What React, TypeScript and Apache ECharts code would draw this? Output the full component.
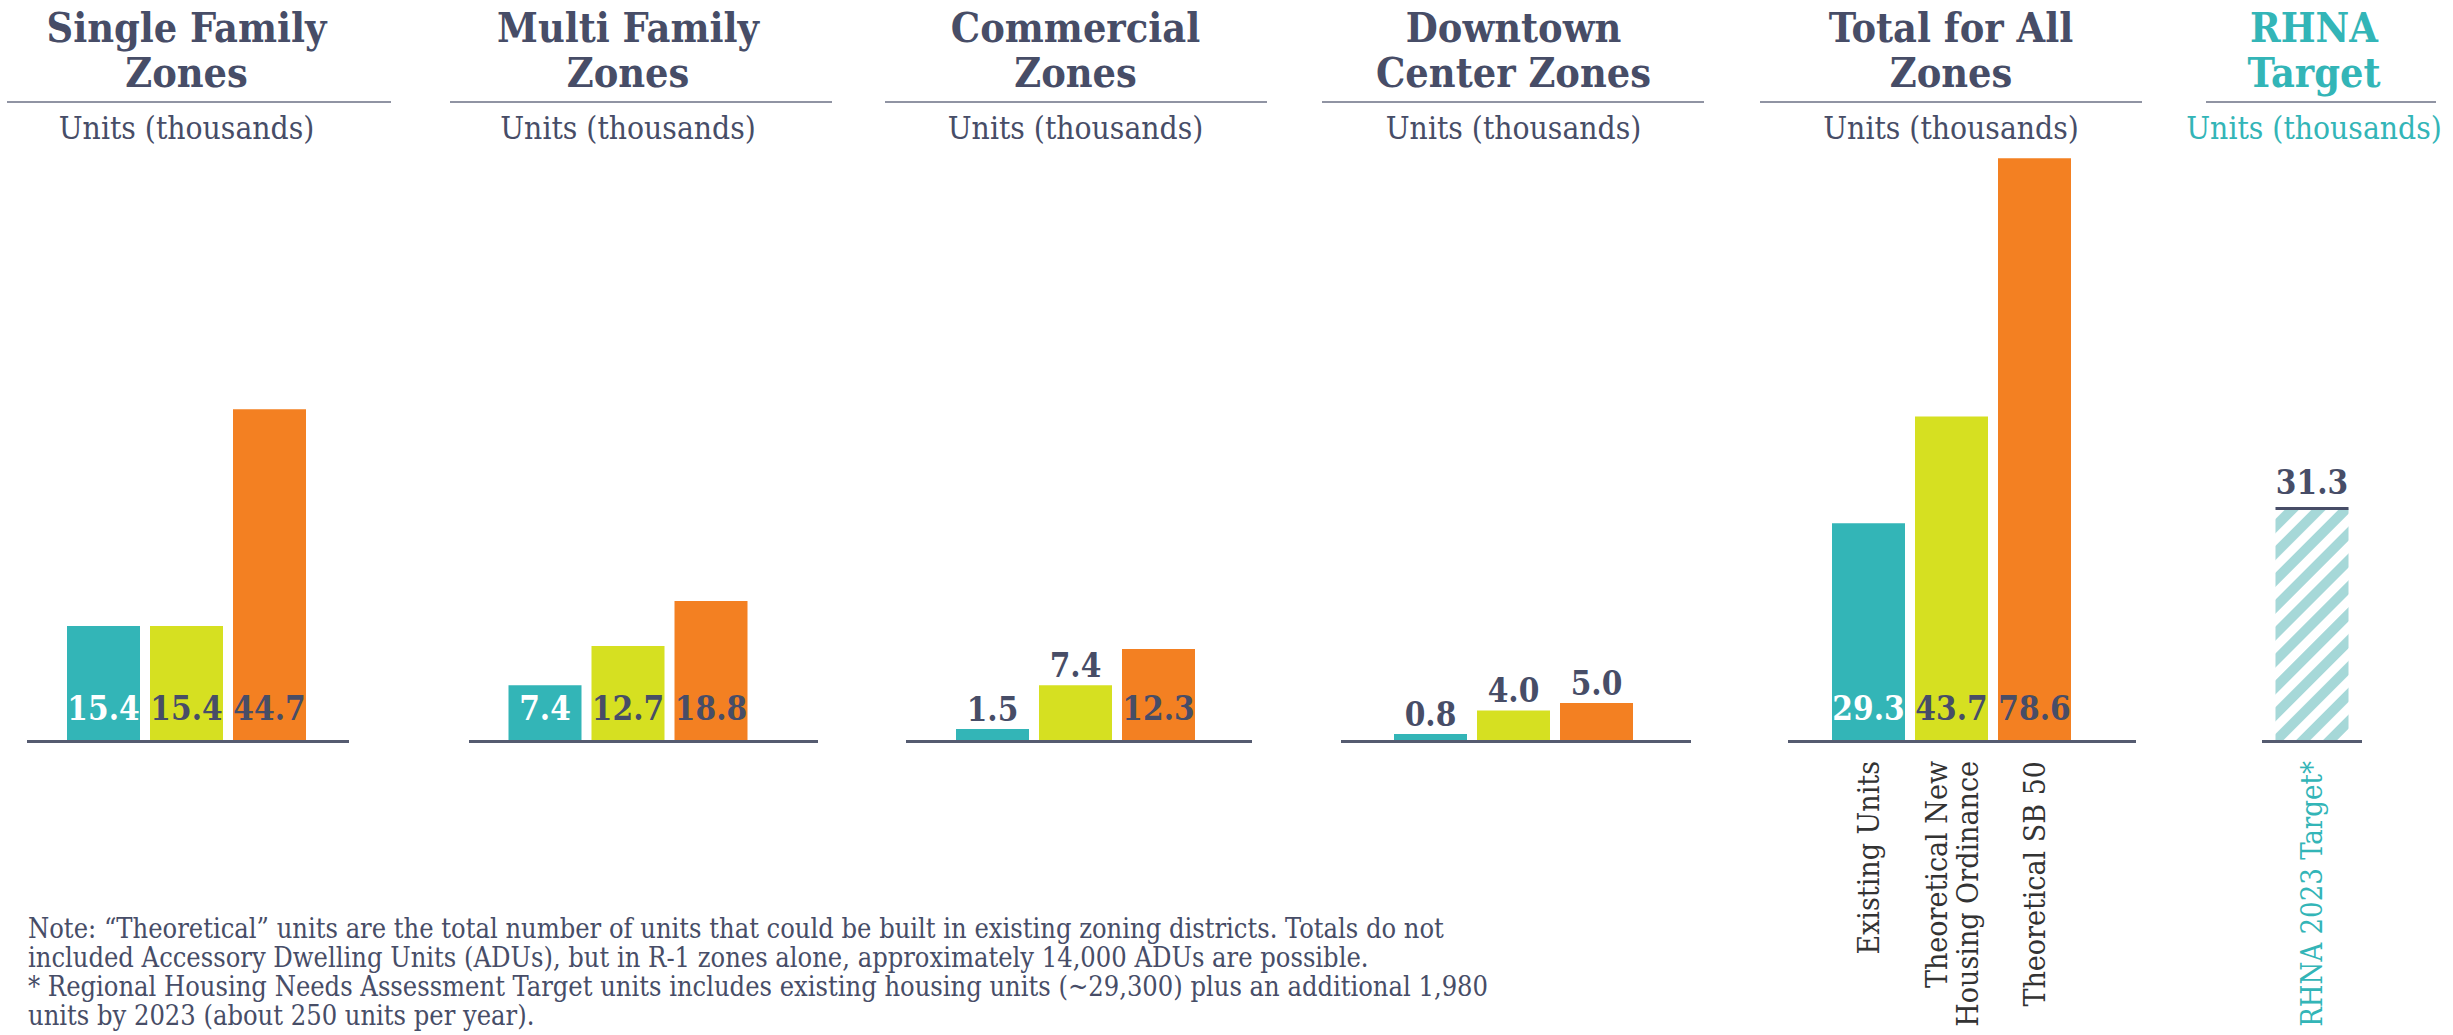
import React, { useEffect, useRef } from "react";
import * as echarts from "echarts";

// ---------- data ----------
const categories = ["Existing Units", "Theoretical New\nHousing Ordinance", "Theoretical SB 50"];
const panelTitles = ["Single Family\nZones", "Multi Family\nZones", "Commercial\nZones", "Downtown\nCenter Zones", "Total for All\nZones", "RHNA\nTarget"];
const unitLabel = "Units (thousands)";
const singleFamily = [15.4, 15.4, 44.7];
const multiFamily = [7.4, 12.7, 18.8];
const commercial = [1.5, 7.4, 12.3];
const downtown = [0.8, 4.0, 5.0];
const totalAll = [29.3, 43.7, 78.6];
const rhnaCategories = ["RHNA 2023 Target*"];
const rhnaTarget = [31.3];
const noteText =
  "Note: \u201CTheoretical\u201D units are the total number of units that could be built in existing zoning districts. Totals do not\n" +
  "included Accessory Dwelling Units (ADUs), but in R-1 zones alone, approximately 14,000 ADUs are possible.\n" +
  "* Regional Housing Needs Assessment Target units includes existing housing units (~29,300) plus an additional 1,980\n" +
  "units by 2023 (about 250 units per year).";

// ---------- styles ----------
const FONT = "'DejaVu Serif Condensed', 'DejaVu Serif', serif";
const SLATE = "#474d67";
const TEAL = "#33b5b7";
const PALETTE = ["#33b5b7", "#d6e021", "#f38022"];
const STRIPE = "#a6d8d8";
const W = 2453;
const H = 1035;
const BAR_BOTTOM = 740;
const Y_MAX = 80;
const PLOT_H = 592;
const BAR_W = 73;

// layout per panel (left of grid, grid width, baseline extent, centre, separator)
const layout = [
  { left: 62, width: 249, l1: 27, l2: 349, c: 186.5, sc: 199, sw: 384 },
  { left: 503.5, width: 249, l1: 469, l2: 818, c: 628, sc: 641, sw: 382 },
  { left: 951, width: 249, l1: 906, l2: 1252, c: 1075.5, sc: 1076, sw: 382 },
  { left: 1389, width: 249, l1: 1341, l2: 1691, c: 1513.5, sc: 1513, sw: 382 },
  { left: 1827, width: 249, l1: 1788, l2: 2136, c: 1951, sc: 1951, sw: 382 },
  { left: 2262, width: 100, l1: 2262, l2: 2362, c: 2314, sc: 2321, sw: 230 },
];
// whether value label sits inside the bar (styling)
const labelInside = [
  [true, true, true],
  [true, true, true],
  [false, false, true],
  [false, false, false],
  [true, true, true],
];

export default function App() {
  const ref = useRef<HTMLDivElement>(null);
  useEffect(() => {
    document.body.style.margin = "0";
    const chart = echarts.init(ref.current!, null, { renderer: "svg" });
    const zoneData = [singleFamily, multiFamily, commercial, downtown, totalAll];

    const grids = layout.map((p) => ({
      left: p.left,
      width: p.width,
      top: BAR_BOTTOM - PLOT_H,
      height: PLOT_H,
      containLabel: false,
      outerBoundsMode: "none",
    }));
    const xAxes = layout.map((p, i) => ({
      type: "category",
      gridIndex: i,
      data: i === 5 ? rhnaCategories : categories,
      axisLine: { show: false },
      axisTick: { show: false },
      axisLabel: {
        show: i >= 4,
        interval: 0,
        rotate: 90,
        margin: 21,
        fontSize: i === 5 ? 29 : 30,
        lineHeight: 31,
        color: i === 5 ? TEAL : "#333333",
        fontFamily: FONT,
        hideOverlap: false,
      },
    }));
    const yAxes = layout.map((p, i) => ({
      type: "value",
      gridIndex: i,
      min: 0,
      max: Y_MAX,
      show: false,
      splitLine: { show: false },
    }));

    const valueLabel = {
      show: true,
      fontSize: 33,
      fontWeight: "bold",
      fontFamily: FONT,
      formatter: (p: any) => Number(p.value).toFixed(1),
    };

    const series: any[] = zoneData.map((vals, i) => ({
      type: "bar",
      xAxisIndex: i,
      yAxisIndex: i,
      barWidth: BAR_W,
      label: valueLabel,
      data: vals.map((v, j) => ({
        value: v,
        itemStyle: { color: PALETTE[j] },
        label: labelInside[i][j]
          ? { position: "insideBottom", distance: 15, color: j === 0 ? "#ffffff" : SLATE }
          : { position: "top", distance: 3, color: SLATE },
      })),
    }));
    series.push({
      type: "bar",
      xAxisIndex: 5,
      yAxisIndex: 5,
      barWidth: BAR_W,
      itemStyle: {
        color: "#ffffff",
        decal: {
          symbol: "rect",
          symbolSize: 1,
          color: STRIPE,
          dashArrayX: [1, 0],
          dashArrayY: [10, 9],
          rotation: -Math.PI / 4,
        },
      },
      label: {
        show: true,
        position: "top",
        distance: -1.5,
        formatter: (p: any) => `{v|${Number(p.value).toFixed(1)}}\n{l|}`,
        rich: {
          v: { fontSize: 33, fontWeight: "bold", color: SLATE, fontFamily: FONT, lineHeight: 48 },
          l: { width: BAR_W, height: 3, backgroundColor: SLATE },
        },
      },
      data: rhnaTarget,
    });

    const graphic: any[] = [];
    layout.forEach((p, i) => {
      const color = i === 5 ? TEAL : SLATE;
      graphic.push({
        type: "text",
        x: p.c,
        y: 5,
        style: {
          text: panelTitles[i],
          fontSize: 41,
          fontWeight: "bold",
          fontFamily: FONT,
          lineHeight: 45,
          fill: color,
          align: "center",
          verticalAlign: "top",
        },
      });
      graphic.push({
        type: "line",
        shape: { x1: p.sc - p.sw / 2, y1: 102, x2: p.sc + p.sw / 2, y2: 102 },
        style: { stroke: "#6b7085", lineWidth: 1.5 },
      });
      graphic.push({
        type: "text",
        x: p.c,
        y: 128,
        style: {
          text: unitLabel,
          fontSize: 31.5,
          fontFamily: FONT,
          fill: color,
          align: "center",
          verticalAlign: "middle",
        },
      });
      graphic.push({
        type: "line",
        shape: { x1: p.l1, y1: BAR_BOTTOM + 1.5, x2: p.l2, y2: BAR_BOTTOM + 1.5 },
        style: { stroke: "#555b70", lineWidth: 3 },
      });
    });
    graphic.push({
      type: "text",
      x: 28,
      y: 914,
      style: {
        text: noteText,
        fontSize: 27,
        lineHeight: 29,
        fontFamily: FONT,
        fill: SLATE,
        align: "left",
        verticalAlign: "top",
      },
    });

    chart.setOption({
      animation: false,
      backgroundColor: "#ffffff",
      grid: grids,
      xAxis: xAxes,
      yAxis: yAxes,
      series,
      graphic,
    });
    return () => chart.dispose();
  }, []);
  return (
    <div
      ref={ref}
      style={{ position: "absolute", left: 0, top: 0, width: W, height: H }}
    />
  );
}
